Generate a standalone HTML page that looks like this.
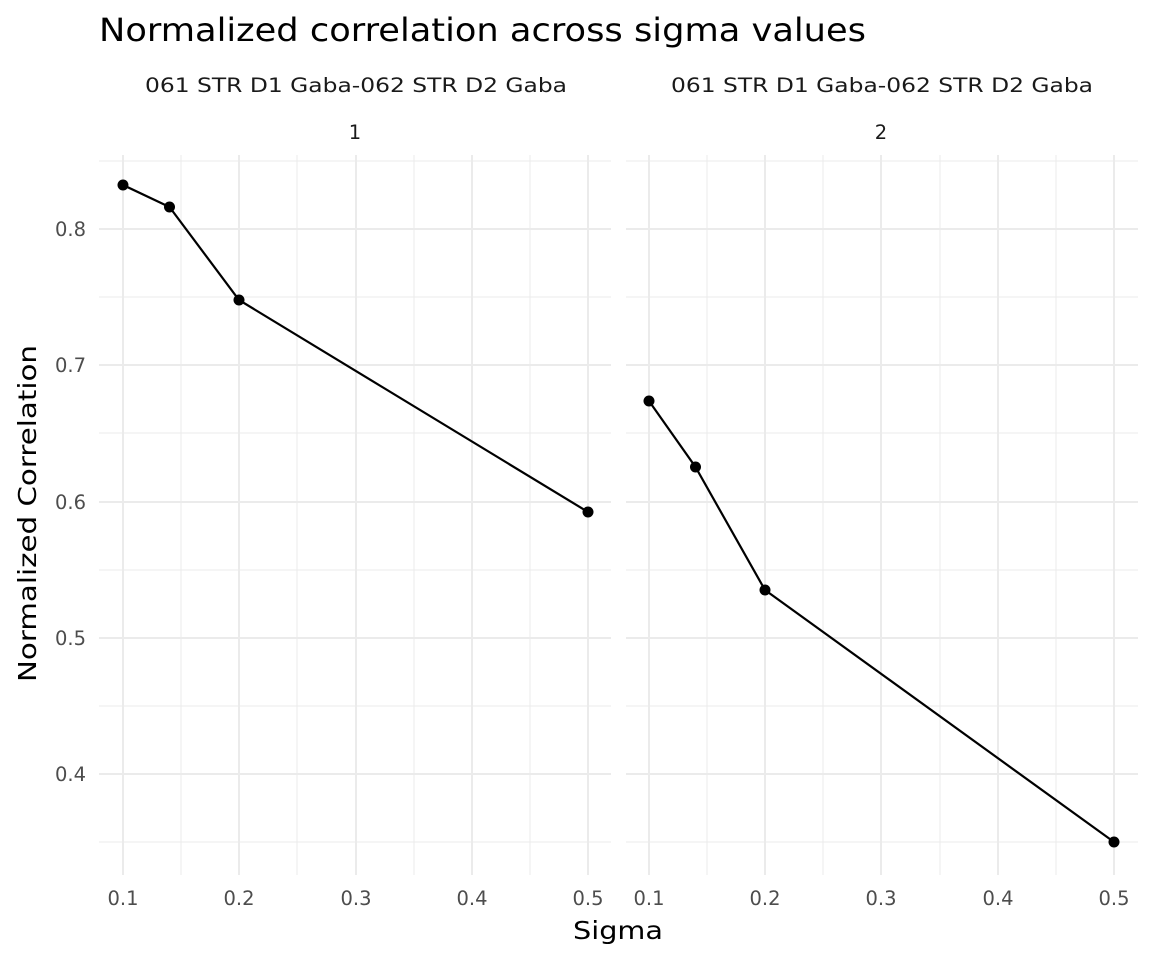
<!DOCTYPE html>
<html><head><meta charset="utf-8"><style>body{margin:0;background:#fff}</style></head>
<body>
<svg width="1152" height="960" xmlns="http://www.w3.org/2000/svg" font-family="DejaVu Sans, Liberation Sans, sans-serif">
<rect width="1152" height="960" fill="#fff"/>
<g stroke="#ebebeb" stroke-width="1">
<line x1="99" x2="611" y1="161" y2="161"/><line x1="99" x2="611" y1="297" y2="297"/><line x1="99" x2="611" y1="433" y2="433"/><line x1="99" x2="611" y1="570" y2="570"/><line x1="99" x2="611" y1="706" y2="706"/><line x1="99" x2="611" y1="842" y2="842"/>
<line x1="626" x2="1138" y1="161" y2="161"/><line x1="626" x2="1138" y1="297" y2="297"/><line x1="626" x2="1138" y1="433" y2="433"/><line x1="626" x2="1138" y1="570" y2="570"/><line x1="626" x2="1138" y1="706" y2="706"/><line x1="626" x2="1138" y1="842" y2="842"/>
<line x1="181" x2="181" y1="155" y2="875"/><line x1="297" x2="297" y1="155" y2="875"/><line x1="414" x2="414" y1="155" y2="875"/><line x1="530" x2="530" y1="155" y2="875"/>
<line x1="707" x2="707" y1="155" y2="875"/><line x1="823" x2="823" y1="155" y2="875"/><line x1="940" x2="940" y1="155" y2="875"/><line x1="1056" x2="1056" y1="155" y2="875"/>
</g>
<g stroke="#ebebeb" stroke-width="2">
<line x1="99" x2="611" y1="229" y2="229"/><line x1="99" x2="611" y1="365" y2="365"/><line x1="99" x2="611" y1="502" y2="502"/><line x1="99" x2="611" y1="638" y2="638"/><line x1="99" x2="611" y1="774" y2="774"/>
<line x1="626" x2="1138" y1="229" y2="229"/><line x1="626" x2="1138" y1="365" y2="365"/><line x1="626" x2="1138" y1="502" y2="502"/><line x1="626" x2="1138" y1="638" y2="638"/><line x1="626" x2="1138" y1="774" y2="774"/>
<line x1="123" x2="123" y1="155" y2="875"/><line x1="239" x2="239" y1="155" y2="875"/><line x1="356" x2="356" y1="155" y2="875"/><line x1="472" x2="472" y1="155" y2="875"/><line x1="588" x2="588" y1="155" y2="875"/>
<line x1="649" x2="649" y1="155" y2="875"/><line x1="765" x2="765" y1="155" y2="875"/><line x1="881" x2="881" y1="155" y2="875"/><line x1="998" x2="998" y1="155" y2="875"/><line x1="1114" x2="1114" y1="155" y2="875"/>
</g>
<polyline fill="none" stroke="#000" stroke-width="2.2" points="123,185 169.5,207 239,300 588,512"/>
<polyline fill="none" stroke="#000" stroke-width="2.2" points="649,401 695.5,467 765,590 1114,842"/>
<g fill="#000">
<circle cx="123" cy="185" r="5.5"/><circle cx="169.5" cy="207" r="5.5"/><circle cx="239" cy="300" r="5.5"/><circle cx="588" cy="512" r="5.5"/>
<circle cx="649" cy="401" r="5.5"/><circle cx="695.5" cy="467" r="5.5"/><circle cx="765" cy="590" r="5.5"/><circle cx="1114" cy="842" r="5.5"/>
</g>
<g fill="#4d4d4d" font-size="19.5" text-anchor="end">
<text x="86" y="236">0.8</text><text x="86" y="372">0.7</text><text x="86" y="509">0.6</text><text x="86" y="645">0.5</text><text x="86" y="781">0.4</text>
</g>
<g fill="#4d4d4d" font-size="19.5" text-anchor="middle">
<text x="123" y="905">0.1</text><text x="239" y="905">0.2</text><text x="356" y="905">0.3</text><text x="472" y="905">0.4</text><text x="588" y="905">0.5</text>
<text x="649" y="905">0.1</text><text x="765" y="905">0.2</text><text x="881" y="905">0.3</text><text x="998" y="905">0.4</text><text x="1114" y="905">0.5</text>
</g>
<g fill="#1a1a1a" font-size="19.5">
<text x="145" y="92" textLength="422" lengthAdjust="spacingAndGlyphs">061 STR D1 Gaba-062 STR D2 Gaba</text><text x="355" y="139" text-anchor="middle">1</text>
<text x="671" y="92" textLength="422" lengthAdjust="spacingAndGlyphs">061 STR D1 Gaba-062 STR D2 Gaba</text><text x="881" y="139" text-anchor="middle">2</text>
</g>
<text x="573" y="939" font-size="25" textLength="90" lengthAdjust="spacingAndGlyphs" fill="#000">Sigma</text>
<text transform="translate(36,682) rotate(-90)" font-size="25" textLength="337" lengthAdjust="spacingAndGlyphs" fill="#000">Normalized Correlation</text>
<text x="99" y="41" font-size="32" textLength="767" lengthAdjust="spacingAndGlyphs" fill="#000">Normalized correlation across sigma values</text>
</svg>
</body></html>
